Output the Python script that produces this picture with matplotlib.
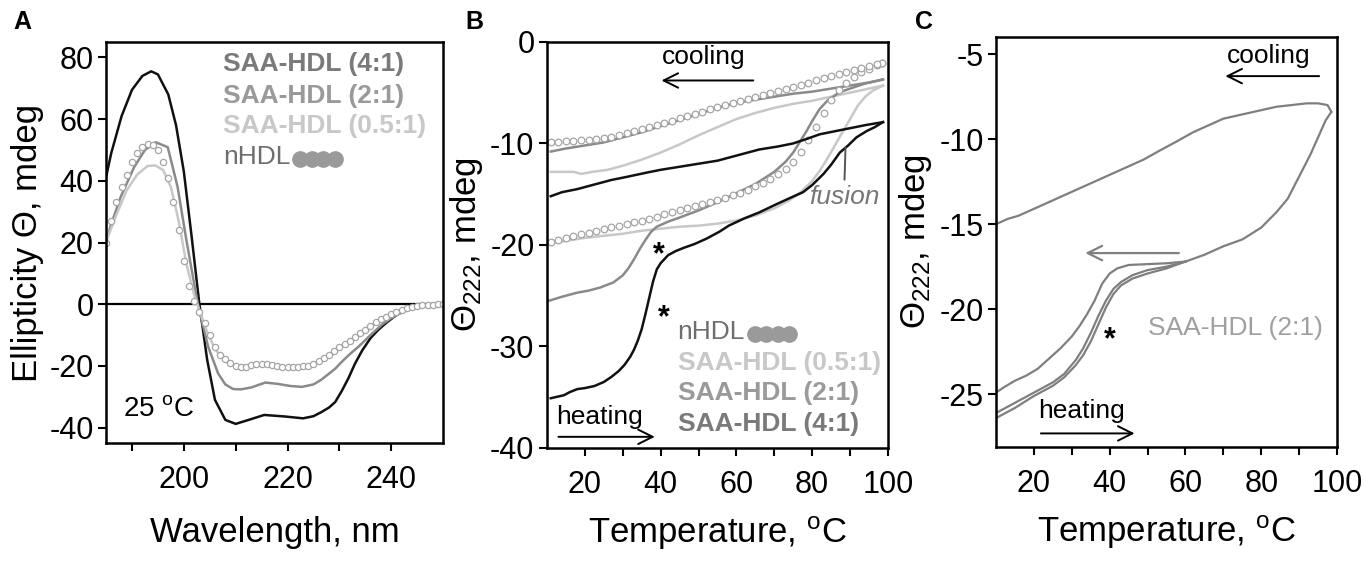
import matplotlib
matplotlib.use("Agg")
import matplotlib.pyplot as plt
from matplotlib.transforms import offset_copy

plt.rcParams['font.family'] = ['Liberation Sans', 'DejaVu Sans']
plt.rcParams['mathtext.fontset'] = 'custom'
plt.rcParams['mathtext.rm'] = 'Liberation Sans'
plt.rcParams['mathtext.it'] = 'Liberation Sans:italic'
plt.rcParams['mathtext.bf'] = 'Liberation Sans:bold'
plt.rcParams['axes.unicode_minus'] = False

# ---------------- panel A: CD spectra at 25 C ----------------
wl_41 = [185, 186, 188, 190, 192, 193.7, 195, 197, 198.5, 200, 201.5, 203, 204.5, 206, 208, 210,
         212.5, 215.5, 219.5, 223, 225, 226.5, 228, 229.2, 230.5, 231.8, 233, 234.4, 236, 237.5,
         239, 241, 243, 245, 247.5, 250]
cd_41 = [41.2, 49, 61, 69.5, 74, 75.5, 74.5, 68, 58, 43, 22, 0, -18, -31, -37.5, -38.8,
         -37.5, -35.9, -36.4, -37, -36.3, -35, -33.5, -31.7, -28, -23.8, -19.3, -15, -11, -8.3,
         -6.1, -3.5, -1.8, -0.8, -0.2, 0]

wl_21 = [185, 186, 187.8, 190.4, 192.5, 194.6, 196.9, 198.8, 200.5, 202.7, 204.7, 206.6, 208,
         209.5, 211, 213, 215.7, 218, 220.5, 222.8, 225, 226.5, 228, 229.2, 230.5, 232, 233.8,
         236, 238.3, 240, 242.2, 244, 245.9, 248, 250]
cd_21 = [20.2, 26, 34.7, 44.4, 50, 52.5, 50.9, 38, 20.7, 0, -13.8, -22.4, -26,
         -27.5, -27.6, -27, -25.4, -25.8, -26.5, -26.8, -26, -24.5, -22.5, -20.9, -18.6, -16.2, -13.6,
         -10, -6.5, -4.5, -2.5, -1.4, -0.7, -0.2, 0]

wl_051 = [185, 187, 189, 191, 193, 194.5, 196, 197.5, 199, 200.5, 202, 203, 204.5, 206, 208, 210,
          213, 216, 219, 222, 224, 226, 228, 230, 232, 234, 236, 238, 240, 242, 244, 246, 248, 250]
cd_051 = [20.2, 29, 37, 42, 44.8, 45, 43.5, 38, 27, 13, 3, -2, -9, -14.5, -18.5, -20.3,
          -20, -19.7, -20.4, -20.5, -19.9, -18.6, -16.5, -14.2, -12, -9.6, -7.2, -5, -3.3, -1.9,
          -0.9, -0.3, -0.1, 0]

wl_n = list(range(185, 251))
cd_n = [20, 27, 33, 38, 42, 46, 49, 51, 52, 51.5, 50, 46, 41, 33, 24, 14, 6, 1, -2.5, -6,
        -10, -14, -16.5, -17.8, -19, -20, -20.4, -20.2, -19.8, -19.5, -19.4, -19.5, -19.7, -20,
        -20.3, -20.4, -20.4, -20.3, -20.1, -19.9, -19.3, -18.5, -17.5, -16.4, -15.2, -14, -12.9,
        -11.8, -10.6, -9.4, -8.2, -7, -5.9, -4.9, -4.0, -3.2, -2.5, -1.8, -1.2, -0.8, -0.5, -0.3,
        -0.2, -0.1, 0, 0]

# ---------------- panel B: heating / cooling at 222 nm ----------------
tB_41_heat = [11, 14.5, 16, 18, 20, 22.5, 25, 27, 29, 30.5, 32, 33, 34, 35, 36, 37, 38, 39, 40,
              42, 44, 46, 49, 52, 55.5, 58, 62, 66, 70.5, 74, 77.6, 80, 83, 85, 87.3, 89.5,
              91.7, 94.3, 96.5, 98.7]
vB_41_heat = [-35.1, -34.8, -34.5, -34.2, -34.1, -33.9, -33.5, -33.0, -32.4, -31.8, -31.0, -30.3,
              -29.4, -28.3, -26.8, -25.2, -23.6, -22.4, -21.8, -21.0, -20.6, -20.3, -19.9, -19.4,
              -18.7, -18.1, -17.4, -16.8, -16.0, -15.4, -14.8, -14.1, -13.0, -12.1, -10.9, -10.2,
              -9.4, -8.8, -8.4, -7.9]
tB_41_cool = [98.7, 94, 90, 86, 82, 79, 75, 71, 66, 60, 55, 50, 45, 40, 36, 31, 27, 22, 18, 14, 11]
vB_41_cool = [-7.9, -8.2, -8.5, -8.8, -9.1, -9.5, -10.0, -10.3, -10.6, -11.2, -11.7, -12.0, -12.3,
              -12.6, -12.9, -13.3, -13.6, -14.1, -14.5, -14.8, -15.2]

tB_21_heat = [10.5, 14, 18, 21, 24, 27.5, 30, 31.5, 33, 34.5, 36, 37.5, 39, 42, 45, 50, 55, 60,
              65, 70, 73, 75, 77, 78.5, 80, 82, 84, 87, 90, 94, 98.7]
vB_21_heat = [-25.5, -25.1, -24.7, -24.5, -24.2, -23.7, -23.0, -22.3, -21.4, -20.4, -19.5, -18.7,
              -18.2, -17.7, -17.3, -16.6, -15.8, -14.9, -14.0, -12.8, -11.8, -10.9, -9.7, -8.8,
              -7.8, -6.6, -5.8, -5.0, -4.6, -4.1, -3.7]
tB_21_cool = [98.7, 95, 90, 85, 80, 75, 70, 65, 60, 55, 50, 45, 40, 35, 30, 25, 20, 15, 11]
vB_21_cool = [-3.7, -4.0, -4.3, -4.6, -4.9, -5.1, -5.4, -5.7, -6.0, -6.5, -7.1, -7.7, -8.3, -8.9,
              -9.4, -9.9, -10.2, -10.5, -10.8]

tB_051_heat = [10.5, 15, 20, 25, 30, 35, 40, 45, 50, 55, 60, 65, 70, 74, 77, 80, 82, 84, 86, 88,
               90, 92, 94, 96, 98.7]
vB_051_heat = [-19.9, -19.6, -19.3, -19.1, -18.9, -18.6, -18.4, -18.2, -18.1, -17.9, -17.6, -17.1,
               -16.4, -15.6, -14.8, -13.7, -12.7, -11.5, -10.2, -8.9, -7.6, -6.3, -5.4, -4.8, -4.3]
tB_051_cool = [98.7, 95, 90, 85, 80, 75, 70, 65, 60, 55, 50, 45, 40, 35, 30, 26, 22, 19, 17, 14, 11]
vB_051_cool = [-4.3, -4.6, -5.0, -5.4, -5.8, -6.1, -6.5, -7.0, -7.6, -8.4, -9.2, -10.1, -10.9,
               -11.6, -12.2, -12.6, -12.8, -13.0, -12.8, -12.8, -12.8]

tB_n_heat = [11, 13, 15, 17, 19, 21, 23, 25, 27, 29, 31, 33, 35, 37, 39, 41, 43, 45, 47, 49, 51,
             53, 55, 57, 59, 61, 63, 65, 67, 69, 71, 73, 75, 77, 79, 81, 83, 85, 87, 89, 91, 93,
             95, 97, 98.5]
vB_n_heat = [-19.7, -19.5, -19.3, -19.1, -18.9, -18.8, -18.6, -18.4, -18.2, -18.1, -17.9, -17.7,
             -17.6, -17.4, -17.2, -17.0, -16.8, -16.6, -16.4, -16.2, -16.0, -15.8, -15.6, -15.4,
             -15.1, -14.9, -14.6, -14.2, -13.9, -13.5, -13.0, -12.5, -11.8, -10.8, -9.7, -8.4,
             -7.0, -5.7, -4.7, -4.0, -3.5, -3.0, -2.7, -2.3, -2.1]
tB_n_cool = [98.5, 97, 95, 93, 91, 89, 87, 85, 83, 81, 79, 77, 75, 73, 71, 69, 67, 65, 63, 61, 59,
             57, 55, 53, 51, 49, 47, 45, 43, 41, 39, 37, 35, 33, 31, 29, 27, 25, 23, 21, 19, 17,
             15, 13, 11]
vB_n_cool = [-2.1, -2.2, -2.4, -2.6, -2.8, -3.0, -3.2, -3.4, -3.6, -3.8, -4.0, -4.2, -4.4, -4.6,
             -4.8, -5.0, -5.2, -5.4, -5.6, -5.8, -6.0, -6.2, -6.4, -6.6, -6.9, -7.1, -7.3, -7.5,
             -7.8, -8.0, -8.2, -8.4, -8.6, -8.8, -9.0, -9.2, -9.4, -9.5, -9.6, -9.7, -9.7, -9.8,
             -9.8, -9.9, -9.9]

# ---------------- panel C: SAA-HDL (2:1), two heating runs ----------------
tC_heat1 = [10, 15, 20, 25, 28, 31, 33, 35, 37, 39, 41, 43, 46, 50, 55, 60, 65, 70, 75, 80, 84,
            87, 90, 93, 95, 97, 98.5]
vC_heat1 = [-26.4, -25.8, -25.1, -24.5, -24.0, -23.3, -22.7, -21.9, -20.9, -19.9, -19.1, -18.6,
            -18.2, -17.9, -17.6, -17.2, -16.8, -16.3, -15.9, -15.2, -14.3, -13.5, -12.2, -10.9,
            -9.9, -8.9, -8.4]
tC_cool1 = [98.5, 97.5, 95, 92, 88, 84, 80, 76, 70, 67, 62, 58, 53, 49, 45, 40, 35, 30, 25, 20,
            16, 13, 10]
vC_cool1 = [-8.4, -8.0, -7.9, -7.9, -8.0, -8.1, -8.3, -8.5, -8.8, -9.1, -9.6, -10.1, -10.7, -11.2,
            -11.6, -12.1, -12.6, -13.1, -13.6, -14.1, -14.5, -14.7, -15.0]
tC_heat2 = [10, 15, 20, 25, 28, 31, 33, 35, 37, 39, 41, 43, 46, 50, 55, 60]
vC_heat2 = [-26.1, -25.5, -24.9, -24.3, -23.8, -23.0, -22.3, -21.4, -20.4, -19.5, -18.8, -18.4,
            -18.0, -17.7, -17.5, -17.2]
tC_cool2 = [60, 55, 50, 45, 42, 40, 38, 36, 34, 32, 30, 27, 24, 21, 18, 15, 12, 10]
vC_cool2 = [-17.2, -17.3, -17.35, -17.4, -17.6, -17.9, -18.5, -19.5, -20.3, -21.0, -21.6, -22.3,
            -22.9, -23.5, -23.9, -24.2, -24.6, -24.9]

legend_labels = ["SAA-HDL (4:1)", "SAA-HDL (2:1)", "SAA-HDL (0.5:1)", "nHDL"]

c_41 = "#111111"
c_21 = "#8a8a8a"
c_051 = "#c8c8c8"
c_circ = "#a5a5a5"
txt_cols = {"SAA-HDL (4:1)": "#7a7a7a", "SAA-HDL (2:1)": "#9a9a9a",
            "SAA-HDL (0.5:1)": "#c8c8c8", "nHDL": "#6e6e6e"}
dot_col = "#9a9a9a"

fig = plt.figure(figsize=(13.65, 5.64), dpi=100)
axA = fig.add_axes([0.0777, 0.2145, 0.2469, 0.711])
axB = fig.add_axes([0.4007, 0.2057, 0.2498, 0.720])
axC = fig.add_axes([0.7297, 0.2074, 0.2498, 0.727])


def style(ax):
    for s in ax.spines.values():
        s.set_linewidth(1.8)
    ax.tick_params(which="both", direction="out", length=6, width=1.5, labelsize=22, pad=3)
    ax.tick_params(axis="x", which="both", pad=10)


def legend_block(ax, x, ys, order):
    texts = []
    for lab, y in zip(order, ys):
        bold = lab != "nHDL"
        t = ax.text(x, y, lab, fontsize=19, color=txt_cols[lab], ha="left", va="center",
                    fontweight="bold" if bold else "normal")
        texts.append(t)
    return texts


def add_dots(ax, t):
    # four overlapping grey dots right after the nHDL label
    fig.canvas.draw()
    bb = t.get_window_extent()
    x0, y0 = ax.transData.inverted().transform((bb.x1, (bb.y0 + bb.y1) / 2))
    for i in range(4):
        tr = offset_copy(ax.transData, fig=fig, x=7 + 8.2 * i, y=-1, units="points")
        ax.plot([x0], [y0], "o", ms=11, color=dot_col, transform=tr, clip_on=False)


# ---- A ----
style(axA)
axA.axhline(0, color="k", lw=1.6)
axA.plot(wl_41, cd_41, color=c_41, lw=1.8)
axA.plot(wl_21, cd_21, color=c_21, lw=1.8)
axA.plot(wl_051, cd_051, color=c_051, lw=1.8)
axA.plot(wl_n, cd_n, "o", ms=4.5, mfc="white", mec=c_circ, mew=0.9)
axA.set_xlim(185, 250)
axA.set_ylim(-45, 85)
axA.set_xticks([200, 220, 240])
axA.set_xticks([190, 210, 230], minor=True)
axA.set_yticks([80, 60, 40, 20, 0, -20, -40])
axA.set_xlabel("Wavelength, nm", fontsize=25, labelpad=15)
axA.set_ylabel("Ellipticity Θ, mdeg", fontsize=25, labelpad=4)
axA.text(188.2, -34, r"25 $^{\mathrm{o}}$C", fontsize=20, ha="left", va="center")
tA = legend_block(axA, 207.6, [77.8, 67.6, 57.9, 47.6], legend_labels)

# ---- B ----
style(axB)
axB.plot(tB_051_heat, vB_051_heat, color=c_051, lw=1.8)
axB.plot(tB_051_cool, vB_051_cool, color=c_051, lw=1.8)
axB.plot(tB_21_heat, vB_21_heat, color=c_21, lw=1.8)
axB.plot(tB_21_cool, vB_21_cool, color=c_21, lw=1.8)
axB.plot(tB_n_heat, vB_n_heat, "o", ms=4.8, mfc="white", mec=c_circ, mew=0.9)
axB.plot(tB_n_cool, vB_n_cool, "o", ms=4.8, mfc="white", mec=c_circ, mew=0.9)
axB.plot(tB_41_heat, vB_41_heat, color=c_41, lw=1.8)
axB.plot(tB_41_cool, vB_41_cool, color=c_41, lw=1.8)
axB.set_xlim(10, 100)
axB.set_ylim(-40, 0)
axB.set_xticks([20, 40, 60, 80, 100])
axB.set_xticks([30, 50, 70, 90], minor=True)
axB.set_yticks([0, -10, -20, -30, -40])
axB.set_xlabel(r"Temperature, $^{\mathrm{o}}$C", fontsize=25, labelpad=10)
axB.set_ylabel(r"$\Theta_{222}$, mdeg", fontsize=25, labelpad=4)
axB.text(51.5, -1.5, "cooling", fontsize=19, ha="center", va="center")
axB.annotate("", xy=(39.5, -3.8), xytext=(65.2, -3.8),
             arrowprops=dict(arrowstyle="->", lw=1.4, color="k", mutation_scale=26))
axB.text(23.8, -36.9, "heating", fontsize=19, ha="center", va="center")
axB.annotate("", xy=(39.2, -38.9), xytext=(12.3, -38.9),
             arrowprops=dict(arrowstyle="->", lw=1.4, color="k", mutation_scale=26))
axB.annotate("fusion", xy=(88.8, -10.4), xytext=(88.4, -15.3), fontsize=19, style="italic",
             color="#777777", ha="center", va="center",
             arrowprops=dict(arrowstyle="-", lw=1.4, color="#555555", shrinkA=2, shrinkB=0))
axB.text(37.9, -21.0, "*", fontsize=22, fontweight="bold", ha="left", va="center")
axB.text(39.2, -27.2, "*", fontsize=22, fontweight="bold", ha="left", va="center")
tB = legend_block(axB, 44.5, [-37.6, -34.6, -31.6, -28.6], legend_labels)

# ---- C ----
style(axC)
for tt, vv in [(tC_heat1, vC_heat1), (tC_cool1, vC_cool1), (tC_heat2, vC_heat2), (tC_cool2, vC_cool2)]:
    axC.plot(tt, vv, color="#7f7f7f", lw=1.6)
axC.set_xlim(10, 100)
axC.set_ylim(-28.1, -4.0)
axC.set_xticks([20, 40, 60, 80, 100])
axC.set_xticks([30, 50, 70, 90], minor=True)
axC.set_yticks([-5, -10, -15, -20, -25])
axC.set_xlabel(r"Temperature, $^{\mathrm{o}}$C", fontsize=25, labelpad=10)
axC.set_ylabel(r"$\Theta_{222}$, mdeg", fontsize=25, labelpad=4)
axC.text(82, -5.1, "cooling", fontsize=19, ha="center", va="center")
axC.annotate("", xy=(69.8, -6.3), xytext=(96, -6.3),
             arrowprops=dict(arrowstyle="->", lw=1.4, color="k", mutation_scale=26))
axC.annotate("", xy=(32.8, -16.7), xytext=(59, -16.7),
             arrowprops=dict(arrowstyle="->", lw=1.6, color="#808080", mutation_scale=26))
axC.text(50.2, -21.1, "SAA-HDL (2:1)", fontsize=19, color="#a0a0a0", ha="left", va="center")
axC.text(38.5, -21.8, "*", fontsize=22, fontweight="bold", ha="left", va="center")
axC.text(32.5, -26.0, "heating", fontsize=19, ha="center", va="center")
axC.annotate("", xy=(47.3, -27.3), xytext=(21.1, -27.3),
             arrowprops=dict(arrowstyle="->", lw=1.4, color="k", mutation_scale=26))

# panel letters
for lab, px in [("A", 13), ("B", 465), ("C", 915)]:
    fig.text(px / 1365, 1 - 10 / 564, lab, fontsize=18, fontweight="bold", ha="left", va="top")

add_dots(axA, tA[3])
add_dots(axB, tB[3])

fig.savefig("out.png", dpi=100)
